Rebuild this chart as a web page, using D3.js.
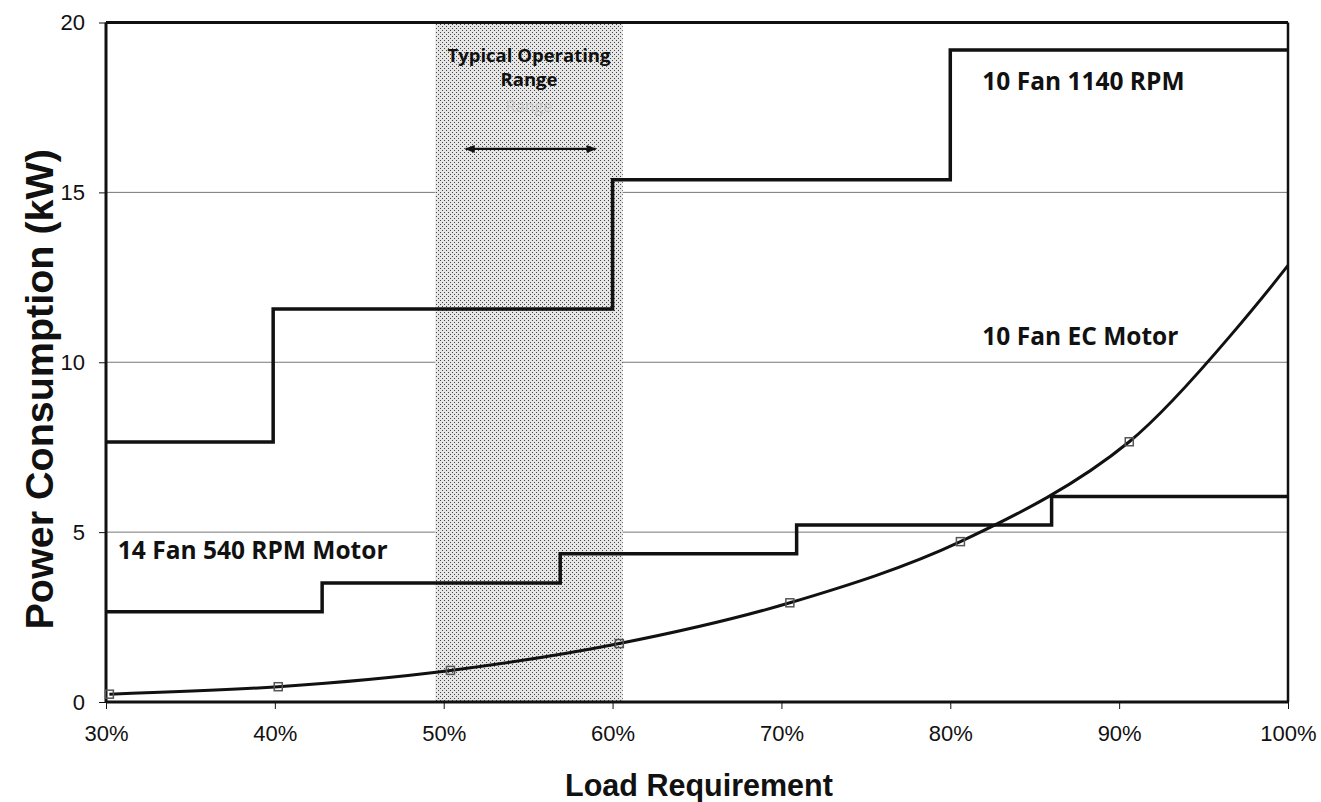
<!DOCTYPE html>
<html>
<head>
<meta charset="utf-8">
<script src="https://cdn.jsdelivr.net/npm/d3@7"></script>
<style>
  html, body { margin: 0; padding: 0; background: #fff; }
  svg { display: block; }
</style>
</head>
<body>
<svg id="chart" width="1321" height="802"></svg>
<script>
// ---- data ----
const xTicks = [30, 40, 50, 60, 70, 80, 90, 100];
const yTicks = [0, 5, 10, 15, 20];
const gridValues = [5, 10, 15];

// 10 Fan 1140 RPM (step line): breakpoints and levels
const fan1140X = [30, 39.9, 60, 80, 100];
const fan1140Y = [7.65, 11.57, 15.37, 19.19];

// 14 Fan 540 RPM Motor (step line)
const fan540X = [30, 42.8, 56.9, 70.9, 86.0, 100];
const fan540Y = [2.66, 3.5, 4.36, 5.21, 6.05];

// 10 Fan EC Motor (smoothed curve)
const ecX = [30.2, 40.2, 50.4, 60.4, 70.5, 80.6, 90.6, 100];
const ecY = [0.23, 0.45, 0.93, 1.72, 2.92, 4.72, 7.66, 12.85];
const ecMarked = [true, true, true, true, true, true, true, false];

// typical operating range
const rangeStart = 49.5;
const rangeEnd = 60.6;
const arrowFrom = 51.3;
const arrowTo = 59.0;
const arrowLevel = 16.28;

const labels = [
  { text: "10 Fan 1140 RPM", x: 81.9, y: 18.22 },
  { text: "10 Fan EC Motor", x: 81.9, y: 10.7 },
  { text: "14 Fan 540 RPM Motor", x: 30.7, y: 4.39 }
];

// ---- layout ----
const svg = d3.select("#chart");
const L = 106, R = 1288, T = 22.5, B = 702;
const x = d3.scaleLinear().domain([30, 100]).range([L, R]);
const y = d3.scaleLinear().domain([0, 20]).range([B, T]);

// pattern for shaded range
const defs = svg.append("defs");
const pat = defs.append("pattern").attr("id", "dots")
  .attr("width", 4).attr("height", 4).attr("patternUnits", "userSpaceOnUse");
pat.append("rect").attr("width", 4).attr("height", 4).attr("fill", "#e6e6e6");
pat.append("rect").attr("x", 0).attr("y", 0).attr("width", 1).attr("height", 1).attr("fill", "#444");
pat.append("rect").attr("x", 2).attr("y", 2).attr("width", 1).attr("height", 1).attr("fill", "#444");

const arrow = defs.append("marker").attr("id", "ah")
  .attr("viewBox", "0 0 10 10").attr("refX", 9).attr("refY", 5)
  .attr("markerWidth", 11).attr("markerHeight", 10).attr("orient", "auto-start-reverse")
  .attr("markerUnits", "userSpaceOnUse");
arrow.append("path").attr("d", "M0,1 L10,5 L0,9 Z").attr("fill", "#111");

// gridlines
svg.append("g").selectAll("line").data(gridValues).join("line")
  .attr("x1", L).attr("x2", R)
  .attr("y1", d => y(d)).attr("y2", d => y(d))
  .attr("stroke", "#777").attr("stroke-width", 1);

// shaded operating range
svg.append("rect")
  .attr("x", x(rangeStart)).attr("y", T)
  .attr("width", x(rangeEnd) - x(rangeStart)).attr("height", B - T)
  .attr("fill", "url(#dots)");

// y axis
const yAxis = svg.append("g").attr("transform", `translate(${L},0)`)
  .call(d3.axisLeft(y).tickValues(yTicks).tickSize(7).tickPadding(14).tickFormat(d3.format("d")));
yAxis.select(".domain").remove();
yAxis.selectAll("text").attr("font-family", "Liberation Sans, Arial, sans-serif")
  .attr("font-size", 22).attr("fill", "#111");
yAxis.selectAll("line").attr("stroke", "#111");

// x axis
const xAxis = svg.append("g").attr("transform", `translate(0,${B})`)
  .call(d3.axisBottom(x).tickValues(xTicks).tickSize(7).tickPadding(16).tickFormat(d => d + "%"));
xAxis.select(".domain").remove();
xAxis.selectAll("text").attr("font-family", "Liberation Sans, Arial, sans-serif")
  .attr("font-size", 22).attr("fill", "#111");
xAxis.selectAll("line").attr("stroke", "#111");

// frame
svg.append("line").attr("x1", L).attr("x2", R).attr("y1", B).attr("y2", B)
  .attr("stroke", "#111").attr("stroke-width", 3);
svg.append("line").attr("x1", L).attr("x2", L).attr("y1", T).attr("y2", B)
  .attr("stroke", "#111").attr("stroke-width", 3);
svg.append("line").attr("x1", L).attr("x2", R).attr("y1", T).attr("y2", T)
  .attr("stroke", "#111").attr("stroke-width", 3);
svg.append("line").attr("x1", R).attr("x2", R).attr("y1", T).attr("y2", B)
  .attr("stroke", "#111").attr("stroke-width", 2.5);

// step lines
function stepPoints(xs, ys) {
  const pts = [];
  ys.forEach((v, i) => { pts.push([xs[i], v]); pts.push([xs[i + 1], v]); });
  return pts;
}
const lineGen = d3.line().x(d => x(d[0])).y(d => y(d[1]));
svg.append("path").attr("d", lineGen(stepPoints(fan1140X, fan1140Y)))
  .attr("fill", "none").attr("stroke", "#111").attr("stroke-width", 3.5).attr("stroke-linejoin", "miter");
svg.append("path").attr("d", lineGen(stepPoints(fan540X, fan540Y)))
  .attr("fill", "none").attr("stroke", "#111").attr("stroke-width", 3.5).attr("stroke-linejoin", "miter");

// EC curve
const ecData = ecX.map((v, i) => ({ x: v, y: ecY[i], m: ecMarked[i] }));
svg.append("path")
  .attr("d", d3.line().x(d => x(d.x)).y(d => y(d.y)).curve(d3.curveCatmullRom.alpha(0.5))(ecData))
  .attr("fill", "none").attr("stroke", "#111").attr("stroke-width", 3);
svg.append("g").selectAll("rect").data(ecData.filter(d => d.m)).join("rect")
  .attr("x", d => x(d.x) - 4).attr("y", d => y(d.y) - 4)
  .attr("width", 8).attr("height", 8)
  .attr("fill", "none").attr("stroke", "#555").attr("stroke-width", 1.5);

// series labels
svg.append("g").selectAll("text").data(labels).join("text")
  .attr("x", d => x(d.x)).attr("y", d => y(d.y))
  .attr("dominant-baseline", "middle")
  .attr("font-family", "Open Sans, sans-serif").attr("font-weight", 700)
  .attr("font-size", 24.5).attr("fill", "#111")
  .text(d => d.text);

// typical operating range label
const cx = x((rangeStart + rangeEnd) / 2);
svg.append("text").attr("x", cx).attr("y", 57).attr("text-anchor", "middle")
  .attr("dominant-baseline", "middle")
  .attr("font-family", "Open Sans, sans-serif").attr("font-weight", 700).attr("font-size", 18.5)
  .attr("fill", "#111").text("Typical Operating");
svg.append("text").attr("x", cx).attr("y", 81).attr("text-anchor", "middle")
  .attr("dominant-baseline", "middle")
  .attr("font-family", "Open Sans, sans-serif").attr("font-weight", 700).attr("font-size", 18.5)
  .attr("fill", "#111").text("Range");
svg.append("text").attr("x", cx).attr("y", 108).attr("text-anchor", "middle")
  .attr("dominant-baseline", "middle")
  .attr("font-family", "Open Sans, sans-serif").attr("font-weight", 400).attr("font-size", 16)
  .attr("fill", "#c4c4c4").attr("opacity", 0.8).text("Range");
svg.append("line")
  .attr("x1", x(arrowFrom)).attr("x2", x(arrowTo))
  .attr("y1", y(arrowLevel)).attr("y2", y(arrowLevel))
  .attr("stroke", "#111").attr("stroke-width", 2.2)
  .attr("marker-start", "url(#ah)").attr("marker-end", "url(#ah)");

// axis titles
svg.append("text")
  .attr("transform", `translate(53,${(T + B) / 2 + 27}) rotate(-90)`)
  .attr("text-anchor", "middle")
  .attr("font-family", "Liberation Sans, Arial, sans-serif").attr("font-weight", 700)
  .attr("font-size", 39.5).attr("fill", "#111")
  .text("Power Consumption (kW)");
svg.append("text")
  .attr("x", (L + R) / 2 + 2).attr("y", 796)
  .attr("text-anchor", "middle")
  .attr("font-family", "Liberation Sans, Arial, sans-serif").attr("font-weight", 700)
  .attr("font-size", 30.5).attr("fill", "#111")
  .text("Load Requirement");
</script>
</body>
</html>
